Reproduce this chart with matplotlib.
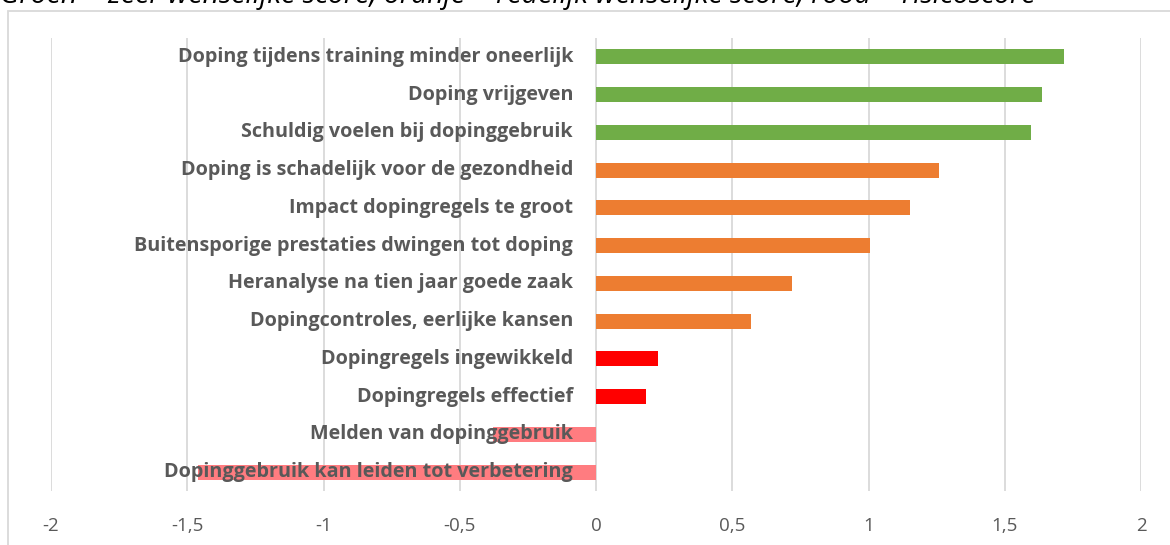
import matplotlib
matplotlib.use("Agg")
import matplotlib.pyplot as plt
import matplotlib.transforms as mtransforms
from matplotlib.patches import Rectangle

categories = [
    "Doping tijdens training minder oneerlijk",
    "Doping vrijgeven",
    "Schuldig voelen bij dopinggebruik",
    "Doping is schadelijk voor de gezondheid",
    "Impact dopingregels te groot",
    "Buitensporige prestaties dwingen tot doping",
    "Heranalyse na tien jaar goede zaak",
    "Dopingcontroles, eerlijke kansen",
    "Dopingregels ingewikkeld",
    "Dopingregels effectief",
    "Melden van dopinggebruik",
    "Dopinggebruik kan leiden tot verbetering",
]
values = [1.717, 1.636, 1.596, 1.260, 1.154, 1.007, 0.719, 0.568, 0.229, 0.185, -0.378, -1.461]
groups = ["groen", "groen", "groen", "oranje", "oranje", "oranje", "oranje", "oranje",
          "rood", "rood", "risico", "risico"]
xticks = [-2, -1.5, -1, -0.5, 0, 0.5, 1, 1.5, 2]
xticklabels = ["-2", "-1,5", "-1", "-0,5", "0", "0,5", "1", "1,5", "2"]
title = "Groen = zeer wenselijke score, oranje = redelijk wenselijke score, rood = risicoscore"

colors = {"groen": "#70AD47", "oranje": "#ED7D31", "rood": "#FF0000", "risico": "#FF7C80"}

W, H = 1170, 545
fig = plt.figure(figsize=(W / 100, H / 100), dpi=100)
fig.patch.set_facecolor("white")

# chart border (cropped on right/bottom)
fig.patches.append(Rectangle((8 / W, -0.1), 1.2, (H - 11) / H + 0.1, transform=fig.transFigure,
                             fill=False, edgecolor="#D9D9D9", linewidth=1.3))

left, right = 51, 1141
top, bottom = 38, 491
ax = fig.add_axes([left / W, 1 - bottom / H, (right - left) / W, (bottom - top) / H])
ax.set_facecolor("none")

n = len(categories)
ypos = list(range(n))
ax.barh(ypos, values, height=0.4, color=[colors[g] for g in groups], zorder=2)
ax.set_ylim(n - 0.5, -0.5)
ax.set_xlim(-2, 2)

ax.set_xticks(xticks)
ax.set_xticklabels(xticklabels, fontsize=13.5, color="#595959", family="Open Sans")
ax.tick_params(axis="x", length=0, pad=19)
ax.set_yticks([])
for s in ax.spines.values():
    s.set_visible(False)
ax.grid(axis="x", color="#D9D9D9", linewidth=1.3, zorder=1)

off = mtransforms.offset_copy(ax.transData, fig=fig, x=-23, y=0, units="dots")
for i, lab in enumerate(categories):
    ax.text(0, i, lab, transform=off, ha="right", va="center", fontsize=14.2,
            fontweight="bold", color="#595959", family="Open Sans", zorder=3)

fig.text(0, 1 - 3.5 / H, title, ha="left", va="baseline", fontsize=20.5, style="italic",
         color="black", family="Open Sans")

fig.savefig("out.png", dpi=100)
